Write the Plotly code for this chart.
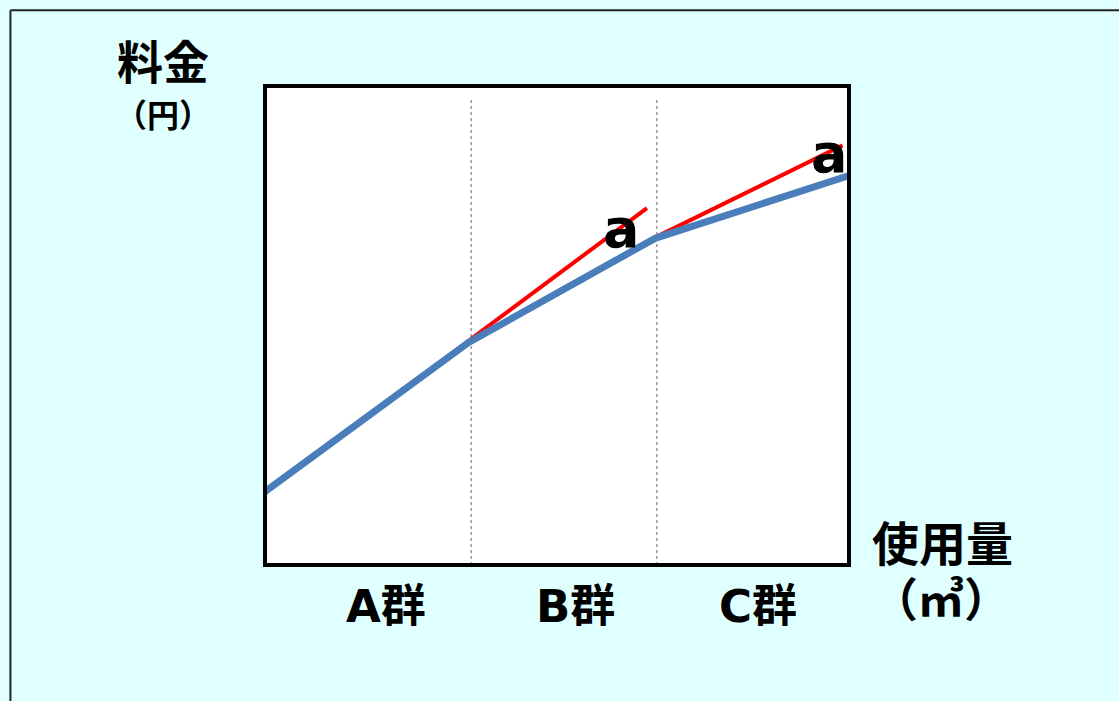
import plotly.graph_objects as go

# Usage (x) and charge (y) in relative units
base_x = [0.0, 3.48, 6.68, 10.0]
base_y = [1.53, 4.64, 6.82, 8.13]

# Extensions of the previous slope in groups B and C
ext1_x = [3.44, 6.54]
ext1_y = [4.64, 7.45]
ext2_x = [6.70, 9.89]
ext2_y = [6.85, 8.76]

# Group boundaries
bounds_x = [3.53, 6.71]
bound_top = 9.76

# Group labels
groups = ["A群", "B群", "C群"]
group_x = [2.08, 5.32, 8.45]

# "a" markers
a_x = [6.09, 9.65]
a_y = [7.03, 8.59]

W, H = 1119, 701
L, R, T, B = 264.5, 849.5, 85.5, 565.5
PW, PH = R - L, B - T


def px(xp):
    return (xp - L) / PW


def py(yp):
    return (B - yp) / PH


FONT = "DejaVu Sans, Noto Sans CJK JP, sans-serif"

fig = go.Figure()

for bx in bounds_x:
    fig.add_trace(go.Scatter(x=[bx, bx], y=[0, bound_top], mode="lines",
                             line=dict(color="#666666", width=1, dash="dot"),
                             hoverinfo="skip", showlegend=False))

for ex, ey in [(ext1_x, ext1_y), (ext2_x, ext2_y)]:
    fig.add_trace(go.Scatter(x=ex, y=ey, mode="lines",
                             line=dict(color="#FF0000", width=4),
                             hoverinfo="skip", showlegend=False))

fig.add_trace(go.Scatter(x=base_x, y=base_y, mode="lines",
                         line=dict(color="#4A7EBB", width=7),
                         hoverinfo="skip", showlegend=False))

annotations = []
for ax_, ay_ in zip(a_x, a_y):
    annotations.append(dict(x=ax_, y=ay_, xref="x", yref="y", text="<b>a</b>",
                            showarrow=False, font=dict(family=FONT, size=54, color="#000000"),
                            xanchor="center", yanchor="middle"))

for g, gx in zip(groups, group_x):
    annotations.append(dict(x=gx, y=py(607), xref="x", yref="paper", text=f"<b>{g}</b>",
                            showarrow=False, font=dict(family=FONT, size=45, color="#000000"),
                            xanchor="center", yanchor="middle"))

annotations += [
    dict(x=px(162), y=py(62), xref="paper", yref="paper", text="<b>料金</b>",
         showarrow=False, font=dict(family=FONT, size=46, color="#000000"),
         xanchor="center", yanchor="middle"),
    dict(x=px(162), y=py(116), xref="paper", yref="paper", text="<b>（円）</b>",
         showarrow=False, font=dict(family=FONT, size=32, color="#000000"),
         xanchor="center", yanchor="middle"),
    dict(x=px(943), y=py(545), xref="paper", yref="paper", text="<b>使用量</b>",
         showarrow=False, font=dict(family=FONT, size=47, color="#000000"),
         xanchor="center", yanchor="middle"),
    dict(x=px(942), y=py(601), xref="paper", yref="paper", text="<b>（㎥）</b>",
         showarrow=False, font=dict(family=FONT, size=46, color="#000000"),
         xanchor="center", yanchor="middle"),
]

shapes = [
    # plot frame
    dict(type="rect", xref="paper", yref="paper", x0=0, y0=0, x1=1, y1=1,
         line=dict(color="#000000", width=4), layer="above"),
    # outer frame (top and left edges)
    dict(type="line", xref="paper", yref="paper", x0=px(9.5), y0=py(9.5), x1=px(1130), y1=py(9.5),
         line=dict(color="#222222", width=2), layer="above"),
    dict(type="line", xref="paper", yref="paper", x0=px(9.5), y0=py(9.5), x1=px(9.5), y1=py(710),
         line=dict(color="#222222", width=2), layer="above"),
]

fig.update_layout(
    width=W, height=H,
    margin=dict(l=L, r=W - R, t=T, b=H - B, pad=0),
    paper_bgcolor="#E0FFFF",
    plot_bgcolor="#FFFFFF",
    xaxis=dict(range=[0, 10], visible=False, fixedrange=True),
    yaxis=dict(range=[0, 10], visible=False, fixedrange=True),
    annotations=annotations,
    shapes=shapes,
    showlegend=False,
)

fig.write_html("out.html", config={"displayModeBar": False})
